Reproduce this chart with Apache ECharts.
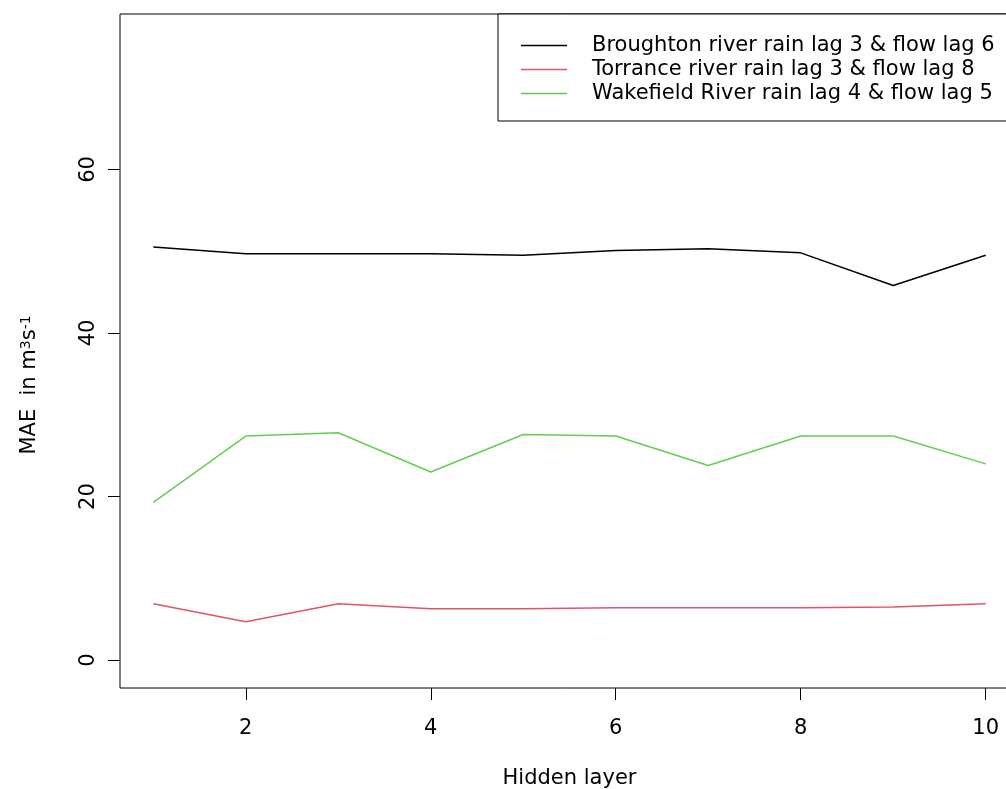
<!DOCTYPE html>
<html>
<head>
<meta charset="utf-8">
<script src="https://cdn.jsdelivr.net/npm/echarts@6/dist/echarts.min.js"></script>
<style>html,body{margin:0;padding:0;background:#fff;}#c{width:1006px;height:789px;}</style>
</head>
<body>
<div id="c"></div>
<script>
const hiddenLayers = [1, 2, 3, 4, 5, 6, 7, 8, 9, 10];
const broughton = [50.5, 49.7, 49.7, 49.7, 49.5, 50.1, 50.3, 49.8, 45.8, 49.5];
const torrance = [6.9, 4.7, 6.9, 6.3, 6.3, 6.4, 6.4, 6.4, 6.5, 6.9];
const wakefield = [19.3, 27.4, 27.8, 23.0, 27.6, 27.4, 23.8, 27.4, 27.4, 24.0];
const seriesNames = [
  'Broughton river rain lag 3 & flow lag 6',
  'Torrance river rain lag 3 & flow lag 8',
  'Wakefield River rain lag 4 & flow lag 5'
];
const seriesColors = ['#000000', '#DF536B', '#61D04F'];
const xTicks = [2, 4, 6, 8, 10];
const yTicks = [0, 20, 40, 60];
const xName = 'Hidden layer';
const yName = 'MAE  in m{sup|3}s{sup|-1}';

const FONT = 'DejaVu Sans';
const chart = echarts.init(document.getElementById('c'), null, {renderer: 'canvas'});
const pair = arr => hiddenLayers.map((x, i) => [x, arr[i]]);
const values = [broughton, torrance, wakefield];

chart.setOption({
  animation: false,
  backgroundColor: '#ffffff',
  grid: {
    left: 120, top: 14, right: -13, bottom: 101,
    show: true, borderColor: '#000', borderWidth: 1,
    outerBoundsMode: 'none', containLabel: false
  },
  legend: {
    orient: 'vertical',
    left: 498, top: 14,
    padding: [21, 24, 17, 23],
    icon: 'rect',
    itemWidth: 46, itemHeight: 1.5, itemGap: 3,
    backgroundColor: '#fff', borderColor: '#000', borderWidth: 1,
    textStyle: {fontFamily: FONT, fontSize: 21, lineHeight: 21, color: '#000', padding: [0, 0, 0, 20]},
    data: seriesNames
  },
  xAxis: {
    type: 'value', min: 0.64, max: 10.36,
    name: xName, nameLocation: 'middle', nameGap: 80,
    nameTextStyle: {fontFamily: FONT, fontSize: 21, color: '#000'},
    axisLine: {show: false, onZero: false},
    splitLine: {show: false},
    axisTick: {show: true, length: 12, customValues: xTicks, lineStyle: {color: '#000', width: 1}},
    axisLabel: {customValues: xTicks, margin: 30, fontFamily: FONT, fontSize: 21, color: '#000'}
  },
  yAxis: {
    type: 'value', min: -3.4, max: 79,
    name: yName, nameLocation: 'middle', nameGap: 80, nameRotate: 90,
    nameTextStyle: {
      fontFamily: FONT, fontSize: 21, lineHeight: 21, color: '#000', padding: [0, 68, 0, 0],
      rich: {sup: {fontFamily: FONT, fontSize: 14, lineHeight: 14, verticalAlign: 'top', color: '#000'}}
    },
    axisLine: {show: false, onZero: false},
    splitLine: {show: false},
    axisTick: {show: true, length: 12, customValues: yTicks, lineStyle: {color: '#000', width: 1}},
    axisLabel: {customValues: yTicks, rotate: 90, margin: 21, fontFamily: FONT, fontSize: 21, color: '#000'}
  },
  series: values.map((v, i) => ({
    name: seriesNames[i],
    type: 'line',
    data: pair(v),
    symbol: 'none',
    color: seriesColors[i],
    itemStyle: {color: seriesColors[i]},
    lineStyle: {color: seriesColors[i], width: 1.5}
  }))
});
</script>
</body>
</html>
